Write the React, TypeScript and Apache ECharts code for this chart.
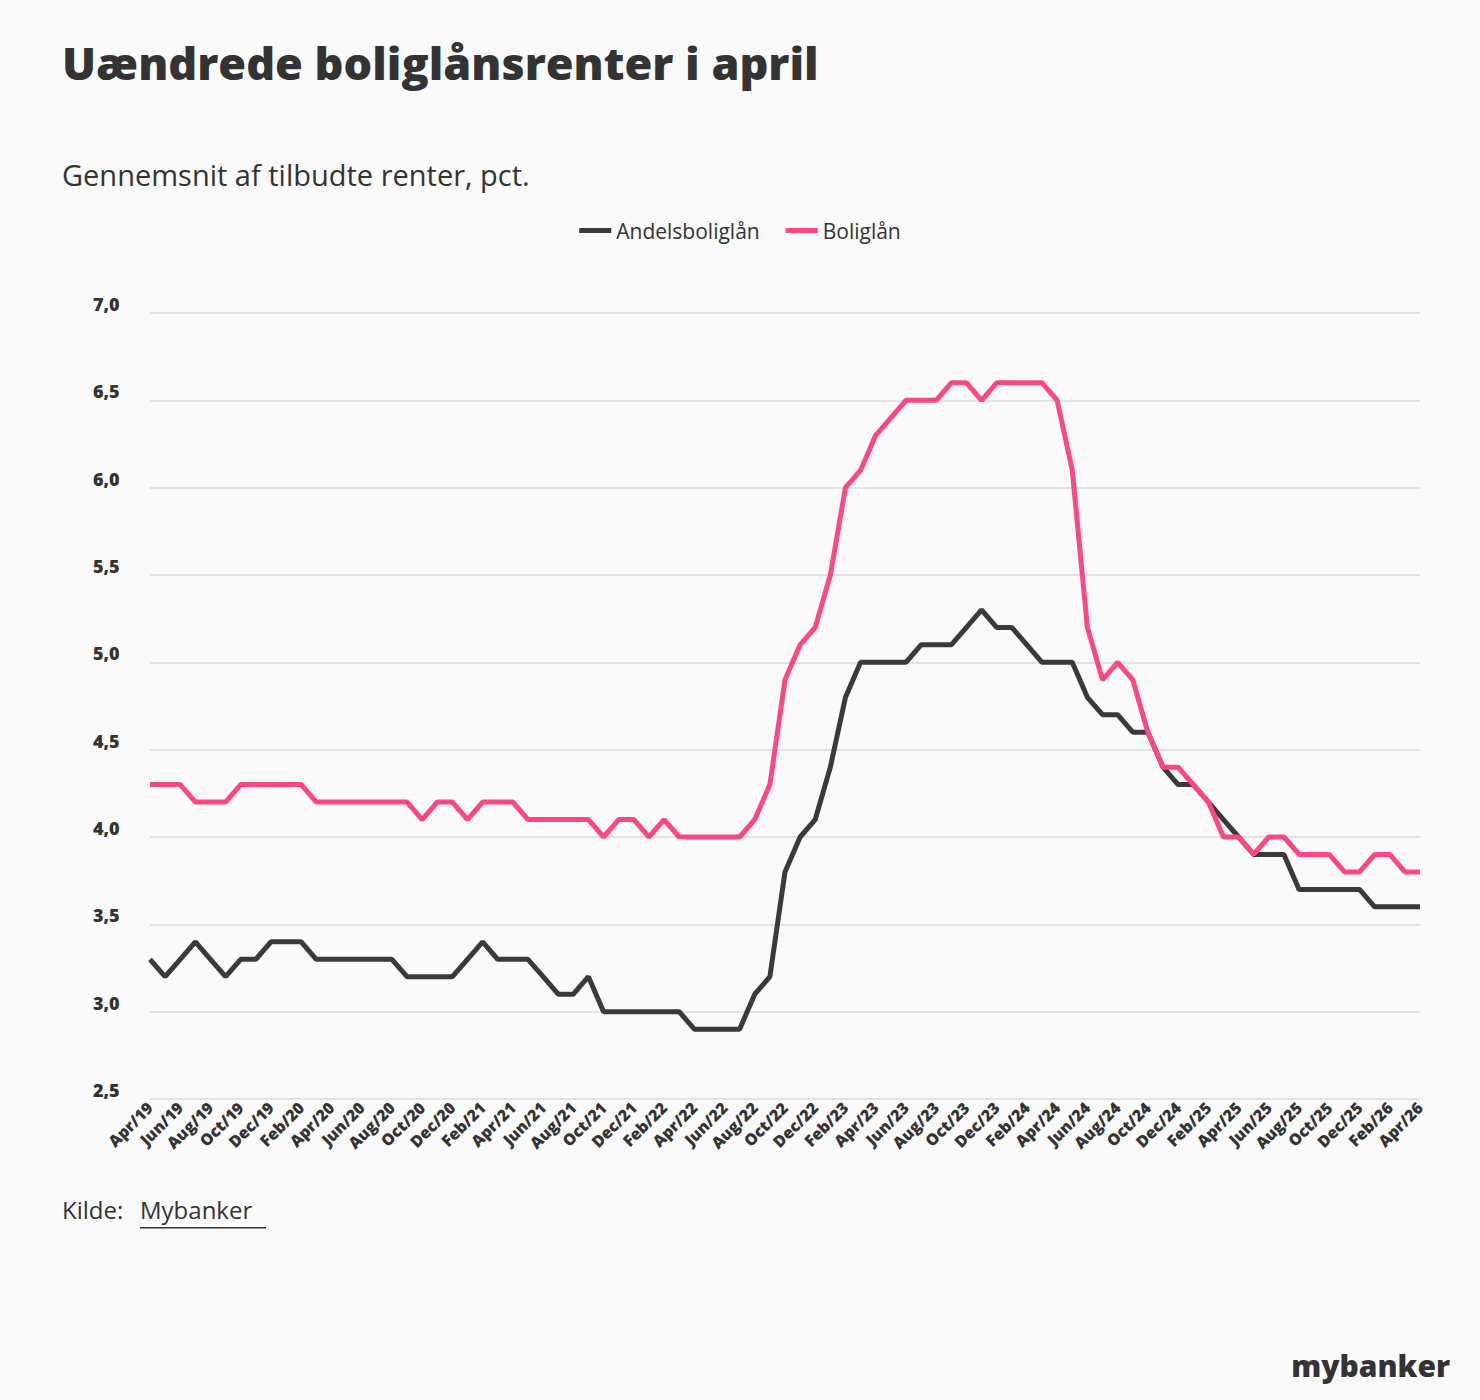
import { useEffect, useRef } from 'react'
import * as echarts from 'echarts'

// monthly, Apr/19 .. Apr/26
const monthNames = ['Jan', 'Feb', 'Mar', 'Apr', 'May', 'Jun', 'Jul', 'Aug', 'Sep', 'Oct', 'Nov', 'Dec']
const months: string[] = []
for (let i = 0; i < 85; i++) {
  const m = (3 + i) % 12
  const y = 19 + Math.floor((3 + i) / 12)
  months.push(`${monthNames[m]}/${y}`)
}

const andelsboliglaan = [
  3.3, 3.2, 3.3, 3.4, 3.3, 3.2, 3.3, 3.3, 3.4, 3.4,
  3.4, 3.3, 3.3, 3.3, 3.3, 3.3, 3.3, 3.2, 3.2, 3.2,
  3.2, 3.3, 3.4, 3.3, 3.3, 3.3, 3.2, 3.1, 3.1, 3.2,
  3.0, 3.0, 3.0, 3.0, 3.0, 3.0, 2.9, 2.9, 2.9, 2.9,
  3.1, 3.2, 3.8, 4.0, 4.1, 4.4, 4.8, 5.0, 5.0, 5.0,
  5.0, 5.1, 5.1, 5.1, 5.2, 5.3, 5.2, 5.2, 5.1, 5.0,
  5.0, 5.0, 4.8, 4.7, 4.7, 4.6, 4.6, 4.4, 4.3, 4.3,
  4.2, 4.1, 4.0, 3.9, 3.9, 3.9, 3.7, 3.7, 3.7, 3.7,
  3.7, 3.6, 3.6, 3.6, 3.6,
]

const boliglaan = [
  4.3, 4.3, 4.3, 4.2, 4.2, 4.2, 4.3, 4.3, 4.3, 4.3,
  4.3, 4.2, 4.2, 4.2, 4.2, 4.2, 4.2, 4.2, 4.1, 4.2,
  4.2, 4.1, 4.2, 4.2, 4.2, 4.1, 4.1, 4.1, 4.1, 4.1,
  4.0, 4.1, 4.1, 4.0, 4.1, 4.0, 4.0, 4.0, 4.0, 4.0,
  4.1, 4.3, 4.9, 5.1, 5.2, 5.5, 6.0, 6.1, 6.3, 6.4,
  6.5, 6.5, 6.5, 6.6, 6.6, 6.5, 6.6, 6.6, 6.6, 6.6,
  6.5, 6.1, 5.2, 4.9, 5.0, 4.9, 4.6, 4.4, 4.4, 4.3,
  4.2, 4.0, 4.0, 3.9, 4.0, 4.0, 3.9, 3.9, 3.9, 3.8,
  3.8, 3.9, 3.9, 3.8, 3.8,
]

const FONT = '"Open Sans", "Noto Sans", sans-serif'
const DARK = '#3a3a3a'
const PINK = '#ff4785'

export default function App() {
  const ref = useRef<HTMLDivElement>(null)

  useEffect(() => {
    if (!ref.current) return
    const chart = echarts.init(ref.current, null, { renderer: 'svg' })
    chart.setOption({
      animation: false,
      backgroundColor: '#fafafa',
      textStyle: { fontFamily: FONT },
      title: [
        {
          text: 'Uændrede boliglånsrenter i april',
          left: 62, top: 40, padding: 0,
          textStyle: { fontSize: 45, fontWeight: 800, color: '#333', fontFamily: FONT },
        },
        {
          text: 'Gennemsnit af tilbudte renter, pct.',
          left: 62, top: 160, padding: 0,
          textStyle: { fontSize: 29, fontWeight: 'normal', color: '#333', fontFamily: FONT },
        },
      ],
      legend: {
        top: 215, left: 'center',
        itemWidth: 32, itemHeight: 5, itemGap: 26,
        icon: 'rect',
        textStyle: { fontSize: 21, color: '#333', fontFamily: FONT },
        data: ['Andelsboliglån', 'Boliglån'],
      },
      grid: { left: 150, right: 60, top: 313, bottom: 301, containLabel: false },
      xAxis: {
        type: 'category',
        data: months,
        boundaryGap: false,
        axisLine: { show: false },
        axisTick: { show: false },
        axisLabel: {
          interval: 1, rotate: 45, fontSize: 16, fontWeight: 800, color: '#333',
          margin: 6, fontFamily: FONT,
        },
      },
      yAxis: {
        type: 'value',
        min: 2.5, max: 7, interval: 0.5,
        splitLine: { lineStyle: { color: '#e3e3e3', width: 2 } },
        axisLabel: {
          align: 'left', margin: 57, verticalAlign: 'bottom', fontSize: 18,
          fontWeight: 800, color: '#333', fontFamily: FONT,
          formatter: (v: number) => v.toFixed(1).replace('.', ','),
        },
      },
      series: [
        {
          name: 'Andelsboliglån', type: 'line', data: andelsboliglaan,
          symbol: 'none', color: DARK, lineStyle: { width: 5, color: DARK },
        },
        {
          name: 'Boliglån', type: 'line', data: boliglaan,
          symbol: 'none', color: PINK, lineStyle: { width: 5, color: PINK },
        },
      ],
      graphic: [
        {
          type: 'text', left: 62, top: 1197,
          style: { text: 'Kilde:', fontSize: 24, fill: '#333', fontFamily: FONT },
        },
        {
          type: 'text', left: 140, top: 1197,
          style: { text: 'Mybanker', fontSize: 24, fill: '#333', fontFamily: FONT },
        },
        { type: 'rect', left: 140, top: 1227, shape: { width: 126, height: 1.5 }, style: { fill: '#333' } },
        {
          type: 'text', right: 30, top: 1350,
          style: { text: 'mybanker', fontSize: 30, fontWeight: 800, fill: '#333', fontFamily: FONT },
        },
      ],
    })
    return () => chart.dispose()
  }, [])

  return <div ref={ref} style={{ position: 'absolute', left: 0, top: 0, width: 1480, height: 1400 }} />
}
